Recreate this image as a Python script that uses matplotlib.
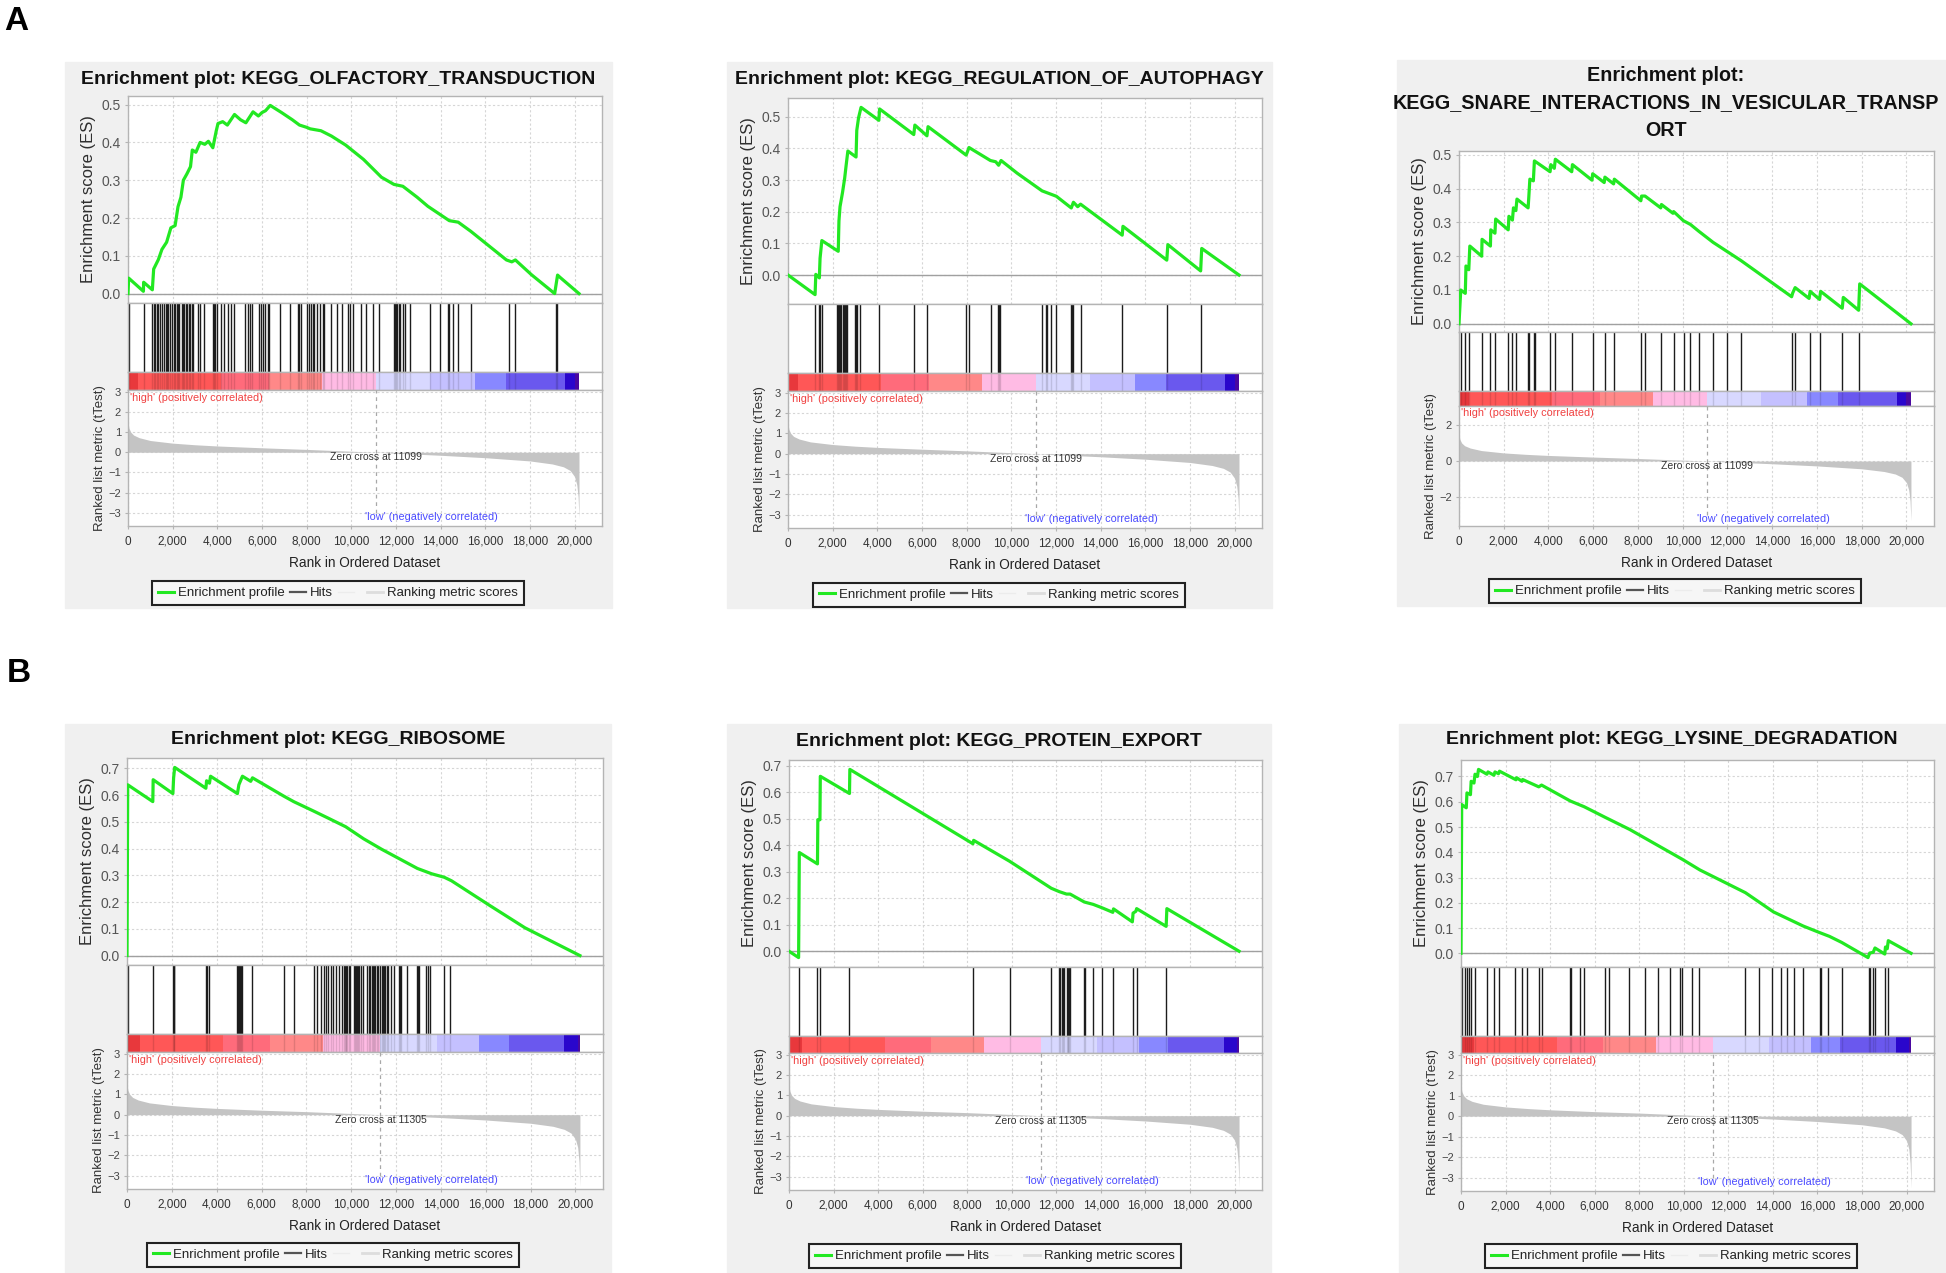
import matplotlib
matplotlib.use("Agg")
import matplotlib.pyplot as plt
from matplotlib.patches import Rectangle
from matplotlib.lines import Line2D
from matplotlib.ticker import MultipleLocator, FuncFormatter

plt.rcParams['font.family'] = ['Liberation Sans', 'DejaVu Sans']

# ===============================
# DATA
# ===============================

N_GENES = 20200
X_MAX = 21230
ZERO_CROSS_A = 11099
ZERO_CROSS_B = 11305

titles = [
    "Enrichment plot: KEGG_OLFACTORY_TRANSDUCTION",
    "Enrichment plot: KEGG_REGULATION_OF_AUTOPHAGY",
    "Enrichment plot:\nKEGG_SNARE_INTERACTIONS_IN_VESICULAR_TRANSP\nORT",
    "Enrichment plot: KEGG_RIBOSOME",
    "Enrichment plot: KEGG_PROTEIN_EXPORT",
    "Enrichment plot: KEGG_LYSINE_DEGRADATION",
]

# running enrichment score, (rank, ES)
olf_es = [(0, 0.0), (30, 0.041), (690, 0.006), (700, 0.03), (1090, 0.01), (1150, 0.065),
          (1360, 0.09), (1520, 0.117), (1730, 0.136), (1920, 0.174), (2110, 0.18),
          (2240, 0.23), (2370, 0.255), (2480, 0.30), (2640, 0.317), (2800, 0.336),
          (2880, 0.38), (3040, 0.374), (3230, 0.40), (3440, 0.395), (3600, 0.403),
          (3800, 0.386), (3950, 0.43), (4030, 0.45), (4240, 0.455), (4450, 0.446),
          (4770, 0.474), (5040, 0.46), (5280, 0.452), (5600, 0.481), (5840, 0.47),
          (6000, 0.479), (6160, 0.484), (6370, 0.498), (6880, 0.479), (7360, 0.46),
          (7680, 0.446), (8000, 0.44), (8160, 0.436), (8640, 0.431), (9110, 0.417),
          (9750, 0.393), (10550, 0.355), (11350, 0.308), (11910, 0.289), (12310, 0.284),
          (12950, 0.255), (13430, 0.231), (13910, 0.212), (14390, 0.193), (14790, 0.189),
          (15350, 0.165), (16150, 0.127), (16950, 0.089), (17190, 0.084), (17350, 0.089),
          (18070, 0.05), (19110, 0.0), (19240, 0.049), (19350, 0.043), (20200, 0.0)]
olf_hits = [32, 704, 1087, 1151, 1199, 1279, 1359, 1439, 1519, 1631, 1711, 1759, 1807,
            1887, 1951, 2047, 2111, 2175, 2239, 2303, 2399, 2462, 2526, 2590, 2654, 2718,
            2782, 2846, 2926, 3118, 3230, 3406, 3806, 3870, 3918, 3998, 4157, 4285, 4477,
            4605, 4765, 5245, 5357, 5469, 5565, 5884, 5964, 6044, 6156, 6268, 6316, 6796,
            7275, 7595, 7675, 7755, 8027, 8107, 8187, 8267, 8347, 8475, 8603, 8715, 8795,
            9082, 9354, 9594, 9834, 9946, 10074, 10425, 10681, 10953, 11241, 11913, 11961,
            11993, 12041, 12121, 12201, 12313, 12393, 12632, 13512, 13991, 14311, 14391,
            14551, 14791, 15350, 17077, 17349, 19156, 19220]

aut_es = [(0, 0.0), (1213, -0.062), (1245, 0.002), (1404, -0.009), (1436, 0.053),
          (1516, 0.109), (2250, 0.075), (2282, 0.171), (2330, 0.216), (2442, 0.261),
          (2538, 0.306), (2601, 0.345), (2681, 0.392), (3048, 0.373), (3080, 0.457),
          (3160, 0.497), (3272, 0.53), (4070, 0.489), (4102, 0.525), (5634, 0.444),
          (5682, 0.474), (6224, 0.44), (6272, 0.469), (7980, 0.379), (8108, 0.403),
          (9065, 0.362), (9305, 0.358), (9433, 0.347), (9544, 0.362), (10262, 0.322),
          (11380, 0.266), (12018, 0.249), (12688, 0.212), (12784, 0.23), (12975, 0.216),
          (13103, 0.224), (14970, 0.126), (15002, 0.154), (16966, 0.047), (17013, 0.096),
          (18482, 0.013), (18530, 0.084), (20200, 0.0)]
aut_hits = [1213, 1404, 1452, 1516, 2202, 2250, 2282, 2330, 2394, 2442, 2490, 2538, 2601,
            2633, 3016, 3048, 3080, 3240, 4086, 5634, 6224, 7980, 8108, 9113, 9384, 9432,
            9496, 11380, 11539, 11619, 11779, 12018, 12688, 12736, 12784, 13103, 14970,
            16966, 18514]

snare_es = [(0, 0.0), (78, 0.10), (281, 0.09), (312, 0.171), (437, 0.16), (484, 0.23),
            (1014, 0.20), (1030, 0.25), (1404, 0.23), (1420, 0.278), (1607, 0.268),
            (1638, 0.31), (2200, 0.278), (2231, 0.318), (2387, 0.307), (2434, 0.343),
            (2543, 0.335), (2590, 0.369), (3089, 0.343), (3120, 0.375), (3167, 0.428),
            (3323, 0.423), (3370, 0.482), (4072, 0.45), (4103, 0.471), (4259, 0.46),
            (4306, 0.487), (5039, 0.45), (5070, 0.471), (5944, 0.425), (5975, 0.444),
            (6490, 0.418), (6521, 0.434), (6911, 0.414), (6942, 0.428), (8128, 0.364),
            (8159, 0.378), (8315, 0.378), (9017, 0.343), (9048, 0.353), (9563, 0.327),
            (9594, 0.332), (10031, 0.305), (10343, 0.294), (10733, 0.273), (11357, 0.241),
            (11981, 0.214), (12605, 0.187), (14867, 0.08), (14914, 0.091), (15023, 0.107),
            (15647, 0.075), (15694, 0.096), (16115, 0.072), (16162, 0.096), (17129, 0.046),
            (17176, 0.078), (17862, 0.04), (17909, 0.118), (20200, 0.0)]
snare_hits = [78, 281, 468, 1014, 1404, 1607, 2200, 2387, 2543, 3089, 3136, 3354, 3401,
              4072, 4290, 5039, 5975, 6521, 6911, 8128, 8315, 9017, 9594, 10062, 10312,
              10733, 11357, 11981, 12605, 14898, 15023, 15678, 16115, 17129, 17878]

ribo_es = [(0, 0.0), (32, 0.639), (1151, 0.576), (1167, 0.658), (2047, 0.606), (2079, 0.665),
           (2127, 0.704), (3518, 0.626), (3550, 0.654), (3678, 0.645), (3726, 0.671),
           (4925, 0.606), (4989, 0.639), (5149, 0.671), (5517, 0.652), (5597, 0.665),
           (7004, 0.596), (7435, 0.576), (8315, 0.541), (8955, 0.515), (9754, 0.482),
           (10553, 0.437), (11353, 0.398), (12153, 0.362), (12952, 0.326), (13591, 0.306),
           (14151, 0.293), (14471, 0.28), (16150, 0.189), (17749, 0.104), (20200, 0.0)]
ribo_hits = [32, 1151, 2047, 2079, 2111, 3518, 3550, 3678, 4925, 4957, 5005, 5037, 5085,
             5149, 5597, 7004, 7435, 8347, 8475, 8635, 8795, 8875, 8987, 9082, 9194, 9306,
             9434, 9594, 9674, 9722, 9754, 9786, 9834, 9882, 9946, 10106, 10154, 10202,
             10266, 10314, 10362, 10425, 10521, 10713, 10793, 10841, 10905, 10953, 11001,
             11065, 11129, 11193, 11273, 11353, 11401, 11465, 11513, 11593, 11641, 11753,
             11913, 12121, 12185, 12233, 12472, 12920, 12984, 13032, 13352, 13432, 13512,
             14151, 14391]

prot_es = [(0, 0.0), (431, -0.024), (463, 0.373), (1278, 0.33), (1294, 0.497), (1389, 0.497),
           (1405, 0.661), (2715, 0.596), (2731, 0.687), (8257, 0.406), (8288, 0.419),
           (9901, 0.34), (11770, 0.238), (12137, 0.225), (12456, 0.216), (12616, 0.216),
           (13255, 0.186), (13655, 0.177), (14054, 0.164), (14533, 0.147), (14565, 0.16),
           (15411, 0.111), (15443, 0.144), (15571, 0.151), (15603, 0.161), (16928, 0.094),
           (16960, 0.161), (20200, 0.0)]
prot_hits = [431, 1278, 1389, 2715, 8256, 9901, 11770, 12105, 12169, 12249, 12297, 12345,
             12456, 12504, 12536, 12584, 12616, 13255, 13303, 13654, 14054, 14533, 15443,
             15603, 16928]

lys_es = [(0, 0.0), (31, 0.589), (236, 0.576), (267, 0.635), (424, 0.628), (456, 0.681),
          (582, 0.674), (629, 0.709), (739, 0.70), (786, 0.728), (1163, 0.709), (1210, 0.718),
          (1478, 0.705), (1525, 0.718), (1682, 0.711), (1729, 0.721), (2468, 0.687),
          (2499, 0.695), (2735, 0.681), (2767, 0.688), (2940, 0.681), (3490, 0.659),
          (3616, 0.666), (4905, 0.603), (5534, 0.58), (6477, 0.538), (7577, 0.49),
          (8835, 0.427), (9935, 0.372), (10721, 0.33), (12765, 0.24), (14022, 0.164),
          (15358, 0.108), (16066, 0.083), (16537, 0.067), (17088, 0.043), (18267, -0.017),
          (18345, 0.001), (18502, 0.004), (18581, 0.021), (19021, -0.003), (19052, 0.025),
          (19131, 0.018), (19178, 0.05), (20200, 0.0)]
lys_hits = [31, 189, 267, 346, 456, 629, 1163, 1478, 1713, 2437, 2735, 2940, 3490, 3616,
            4905, 4952, 5329, 5534, 6477, 6634, 7546, 8237, 8835, 9385, 9809, 9935, 10359,
            10690, 12765, 13362, 13975, 14368, 14651, 14965, 15358, 16097, 16144, 16458,
            17087, 18298, 18377, 18471, 18581, 19021, 19178]

# ranked list metric (tTest), (rank, value)
metric_a = [(0, 1.5), (40, 1.2), (120, 1.0), (250, 0.85), (500, 0.72), (1000, 0.58),
            (2000, 0.45), (3000, 0.37), (4000, 0.31), (6000, 0.22), (8000, 0.14),
            (10000, 0.05), (11099, 0.0), (12000, -0.05), (14000, -0.15), (16000, -0.27),
            (18000, -0.43), (19000, -0.58), (19500, -0.72), (19800, -0.9), (20000, -1.2),
            (20100, -1.6), (20160, -2.2), (20200, -3.3)]
metric_b = [(0, 1.5), (40, 1.2), (120, 1.0), (250, 0.85), (500, 0.72), (1000, 0.58),
            (2000, 0.45), (3000, 0.37), (4000, 0.31), (6000, 0.22), (8000, 0.15),
            (10000, 0.06), (11305, 0.0), (12000, -0.04), (14000, -0.14), (16000, -0.26),
            (18000, -0.42), (19000, -0.57), (19500, -0.72), (19800, -0.9), (20000, -1.2),
            (20100, -1.6), (20160, -2.3), (20200, -3.5)]

# heat-map bar under the hits
band_edges_a = [0, 450, 4150, 6300, 8680, ZERO_CROSS_A, 13510, 15560, 16920, 19560, 20000, N_GENES]
band_edges_b = [0, 600, 4300, 6360, 8740, ZERO_CROSS_B, 13830, 15700, 17030, 19510, 20110, N_GENES]
band_colors = ['#e8383c', '#ff5757', '#ff6b7b', '#ff8888', '#ffbbe4', '#d8d8ff',
               '#c4c0ff', '#8888ff', '#6a58ee', '#2a06cc', '#4a08a0']

# ===============================
# STYLE / LAYOUT (pixels in the 1946x1273 canvas)
# ===============================

W, H = 1946, 1273
GREEN = '#22e822'
GRID = '#d6d6d6'
SPINE = '#b4b4b4'

layouts = [
    dict(box=(65, 62, 612, 608), ax=(128, 602), title=(338, 79), title_size=14, es_top=96,
         hits_top=303, cb_top=372, cb_bot=390, m_bot=526, legend=(338, 593)),
    dict(box=(727, 62, 1272, 608), ax=(788, 1262), title=(999, 80), title_size=14, es_top=98,
         hits_top=304, cb_top=373, cb_bot=391, m_bot=528, legend=(999, 595)),
    dict(box=(1397, 60, 1946, 606), ax=(1459, 1934), title=(1666, 103), title_size=14.2,
         es_top=151, hits_top=332, cb_top=391, cb_bot=406, m_bot=526, legend=(1675, 591)),
    dict(box=(65, 724, 611, 1273), ax=(127, 603), title=(338, 739), title_size=14, es_top=758,
         hits_top=965, cb_top=1034, cb_bot=1052, m_bot=1189, legend=(333, 1255)),
    dict(box=(727, 724, 1271, 1273), ax=(789, 1262), title=(999, 741), title_size=14,
         es_top=760, hits_top=967, cb_top=1036, cb_bot=1053, m_bot=1190, legend=(995, 1256)),
    dict(box=(1399, 724, 1946, 1273), ax=(1461, 1934), title=(1672, 740), title_size=14,
         es_top=760, hits_top=967, cb_top=1036, cb_bot=1053, m_bot=1191, legend=(1671, 1256)),
]


def to_fig(left, top, right, bottom):
    return [left / W, 1 - bottom / H, (right - left) / W, (bottom - top) / H]


def style_axes(ax):
    for sp in ax.spines.values():
        sp.set_color(SPINE)
        sp.set_linewidth(1.0)
    ax.set_xlim(0, X_MAX)


def draw_panel(fig, lay, title, es_pts, hits, metric_pts, zero_cross, edges, small):
    x0, y0, x1, y1 = lay['box']
    fig.add_artist(Rectangle((x0 / W, 1 - y1 / H), (x1 - x0) / W, (y1 - y0) / H,
                             transform=fig.transFigure, color='#f0f0f0', zorder=-5))
    tx, ty = lay['title']
    fig.text(tx / W, 1 - ty / H, title, ha='center', va='center', multialignment='center',
             fontsize=lay['title_size'], fontweight='bold', linespacing=1.55, color='#111111')

    al, ar = lay['ax']

    # -------- ES --------
    ax_es = fig.add_axes(to_fig(al, lay['es_top'], ar, lay['hits_top']))
    style_axes(ax_es)
    xs = [p[0] for p in es_pts]
    ys = [p[1] for p in es_pts]
    lo, hi = min(ys), max(ys)
    r = hi - lo
    ax_es.set_ylim(lo - 0.05 * r, hi + 0.05 * r)
    ax_es.axhline(0, color='#a0a0a0', lw=1.0, zorder=1)
    ax_es.plot(xs, ys, color=GREEN, lw=2.3, zorder=3)
    ax_es.yaxis.set_major_locator(MultipleLocator(0.1))
    ax_es.yaxis.set_major_formatter(FuncFormatter(lambda v, p: f'{v:.1f}'))
    ax_es.xaxis.set_major_locator(MultipleLocator(2000))
    ax_es.grid(True, ls=(0, (2, 2)), color=GRID, lw=0.8)
    ax_es.set_axisbelow(True)
    ax_es.tick_params(axis='x', length=0, labelbottom=False)
    ax_es.tick_params(axis='y', length=2, color=SPINE, labelsize=10, labelcolor='#555555', pad=3)
    ax_es.set_ylabel('Enrichment score (ES)', fontsize=12, color='#2e2e2e')
    ax_es.yaxis.set_label_coords(-0.068, 0.5)

    # -------- HITS --------
    ax_h = fig.add_axes(to_fig(al, lay['hits_top'], ar, lay['cb_top']))
    style_axes(ax_h)
    ax_h.set_ylim(0, 1)
    ax_h.vlines(hits, 0, 1, color='#1c1c1c', lw=1.0)
    ax_h.set_xticks([])
    ax_h.set_yticks([])

    # -------- COLOUR BAR --------
    ax_c = fig.add_axes(to_fig(al, lay['cb_top'], ar, lay['cb_bot']))
    style_axes(ax_c)
    ax_c.set_ylim(0, 1)
    for i, col in enumerate(band_colors):
        ax_c.axvspan(edges[i], edges[i + 1], color=col, lw=0)
    ax_c.vlines(hits, 0, 1, color='black', lw=1.0, alpha=0.12)
    ax_c.set_xticks([])
    ax_c.set_yticks([])

    # -------- RANKED METRIC --------
    ax_m = fig.add_axes(to_fig(al, lay['cb_bot'], ar, lay['m_bot']))
    style_axes(ax_m)
    mx = [p[0] for p in metric_pts]
    my = [p[1] for p in metric_pts]
    ax_m.fill_between(mx, my, 0, color='#c4c4c4', lw=0, zorder=2)
    if small:
        ax_m.set_ylim(-3.6, 3.05)
        ax_m.set_yticks([-2, 0, 2])
    else:
        ax_m.set_ylim(-3.65, 3.08)
        ax_m.set_yticks([-3, -2, -1, 0, 1, 2, 3])
    ax_m.xaxis.set_major_locator(MultipleLocator(2000))
    ax_m.xaxis.set_major_formatter(FuncFormatter(lambda v, p: f'{int(v):,}'))
    ax_m.grid(True, ls=(0, (2, 2)), color=GRID, lw=0.8)
    ax_m.set_axisbelow(True)
    ax_m.tick_params(axis='x', length=2, color=SPINE, labelsize=8.5, labelcolor='#333333', pad=5)
    ax_m.tick_params(axis='y', length=2, color=SPINE, labelsize=8, labelcolor='#444444', pad=3)
    ax_m.plot([zero_cross, zero_cross], [-3.0, 3.1], ls=(0, (3, 3)), color='#a8a8a8', lw=0.9, zorder=3)
    ax_m.text(zero_cross, -0.26, f'Zero cross at {zero_cross}', ha='center', va='center',
              fontsize=7.5, color='#333333', zorder=4)
    ax_m.text(110, 2.68, "'high' (positively correlated)", ha='left', va='center',
              fontsize=7.8, color='#f04040', zorder=4)
    ax_m.text(10620, -3.2, "'low' (negatively correlated)", ha='left', va='center',
              fontsize=7.8, color='#4a4aff', zorder=4)
    ax_m.set_ylabel('Ranked list metric (tTest)', fontsize=9.5, color='#333333')
    ax_m.yaxis.set_label_coords(-0.047, 0.5)
    ax_m.set_xlabel('Rank in Ordered Dataset', fontsize=9.8, color='#222222', labelpad=6)

    # -------- LEGEND --------
    handles = [
        Line2D([], [], color=GREEN, lw=2.2),
        Line2D([], [], color='#555555', lw=1.6),
        Line2D([], [], color='#ececec', lw=1.0),
        Line2D([], [], color='#dddddd', lw=2.0),
    ]
    labels = ['Enrichment profile', 'Hits', ' ', 'Ranking metric scores']
    lx, ly = lay['legend']
    leg = fig.legend(handles, labels, loc='center', bbox_to_anchor=(lx / W, 1 - ly / H),
                     ncol=4, fontsize=9.5, frameon=True, fancybox=False, framealpha=1,
                     facecolor='#f6f6f6', edgecolor='#222222', handlelength=1.2,
                     handletextpad=0.3, columnspacing=0.4, borderpad=0.45)
    leg.get_frame().set_linewidth(1.5)
    for t in leg.get_texts():
        t.set_color('#222222')


def main():
    fig = plt.figure(figsize=(W / 100, H / 100), dpi=100)
    fig.patch.set_facecolor('white')

    panels = [
        (olf_es, olf_hits, metric_a, ZERO_CROSS_A, band_edges_a, False),
        (aut_es, aut_hits, metric_a, ZERO_CROSS_A, band_edges_a, False),
        (snare_es, snare_hits, metric_a, ZERO_CROSS_A, band_edges_a, True),
        (ribo_es, ribo_hits, metric_b, ZERO_CROSS_B, band_edges_b, False),
        (prot_es, prot_hits, metric_b, ZERO_CROSS_B, band_edges_b, False),
        (lys_es, lys_hits, metric_b, ZERO_CROSS_B, band_edges_b, False),
    ]
    for lay, title, (es, hits, met, zc, edges, small) in zip(layouts, titles, panels):
        draw_panel(fig, lay, title, es, hits, met, zc, edges, small)

    fig.text(4 / W, 1 - 6 / H, 'A', ha='left', va='top', fontsize=24, fontweight='bold')
    fig.text(7 / W, 1 - 658 / H, 'B', ha='left', va='top', fontsize=24, fontweight='bold')

    fig.savefig('out.png', dpi=100)
    plt.close(fig)


if __name__ == '__main__':
    main()
